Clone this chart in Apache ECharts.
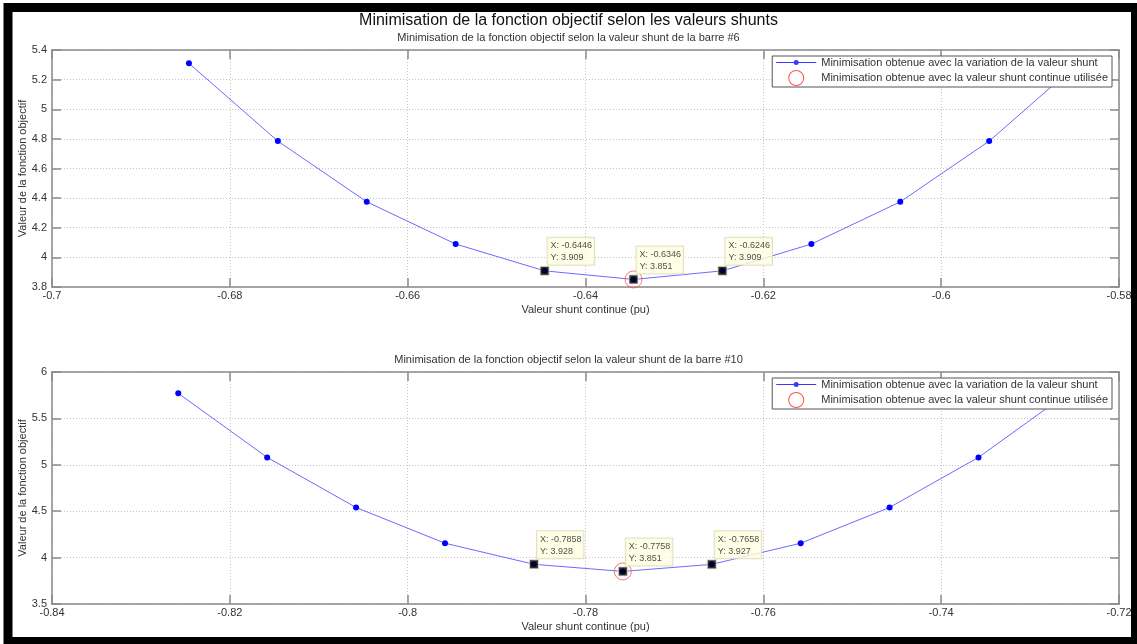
<!DOCTYPE html>
<html>
<head>
<meta charset="utf-8">
<script src="https://cdn.jsdelivr.net/npm/echarts@6/dist/echarts.min.js"></script>
<style>html,body{margin:0;padding:0;background:#fff}#c{width:1137px;height:644px}</style>
</head>
<body>
<div id="c"></div>
<script>
// ---- Data ----
const x1 = [-0.6846, -0.6746, -0.6646, -0.6546, -0.6446, -0.6346, -0.6246, -0.6146, -0.6046, -0.5946, -0.5846];
const y1 = [5.31, 4.785, 4.375, 4.09, 3.909, 3.851, 3.909, 4.09, 4.375, 4.785, 5.31];
const x2 = [-0.8258, -0.8158, -0.8058, -0.7958, -0.7858, -0.7758, -0.7658, -0.7558, -0.7458, -0.7358, -0.7258];
const y2 = [5.77, 5.08, 4.54, 4.155, 3.928, 3.851, 3.927, 4.155, 4.54, 5.08, 5.77];
const tipX1 = [-0.6446, -0.6346, -0.6246];
const tipY1 = [3.909, 3.851, 3.909];
const tipX2 = [-0.7858, -0.7758, -0.7658];
const tipY2 = [3.928, 3.851, 3.927];
const bestX1 = [-0.6346], bestY1 = [3.851];
const bestX2 = [-0.7758], bestY2 = [3.851];
const mainTitle = 'Minimisation de la fonction objectif selon les valeurs shunts';
const sub1 = 'Minimisation de la fonction objectif selon la valeur shunt de la barre #6';
const sub2 = 'Minimisation de la fonction objectif selon la valeur shunt de la barre #10';
const xName = 'Valeur shunt continue (pu)';
const yName = 'Valeur de la fonction objectif';
const nameLine = 'Minimisation obtenue avec la variation de la valeur shunt';
const nameBest = 'Minimisation obtenue avec la valeur shunt continue utilisée';

const FONT = '"Liberation Sans", Arial, sans-serif';
const TXT = '#333';
const AX = '#8a8a8a';
const RED = '#ff5050';
const zip = (a, b) => a.map((v, i) => [v, b[i]]);

const grids = [
  {left: 52, top: 50, width: 1067, height: 237},
  {left: 52, top: 372, width: 1067, height: 232}
];
const xr = [{min: -0.7, max: -0.58, interval: 0.02}, {min: -0.84, max: -0.72, interval: 0.02}];
const yr = [{min: 3.8, max: 5.4, interval: 0.2}, {min: 3.5, max: 6, interval: 0.5}];

const lineAx = {show: true, onZero: false, lineStyle: {color: AX, width: 1.5}};
const tickAx = {show: true, inside: true, length: 9, lineStyle: {color: AX, width: 1.5}};
const gridLine = {show: true, lineStyle: {color: '#c4c4c4', type: [1, 2], width: 1}};
const fmt = v => String(+v.toFixed(4));

const xAxes = [], yAxes = [];
for (let g = 0; g < 2; g++) {
  xAxes.push({
    type: 'value', gridIndex: g, position: 'bottom', ...xr[g],
    name: xName, nameLocation: 'middle', nameGap: 17, nameMoveOverlap: false,
    nameTextStyle: {fontFamily: FONT, fontSize: 11, color: TXT},
    axisLine: lineAx, axisTick: tickAx,
    axisLabel: {fontFamily: FONT, fontSize: 11, color: TXT, margin: 3, formatter: fmt},
    splitLine: gridLine
  });
  xAxes.push({
    type: 'value', gridIndex: g, position: 'top', ...xr[g],
    axisLine: lineAx, axisTick: tickAx,
    axisLabel: {show: false}, splitLine: {show: false}
  });
  yAxes.push({
    type: 'value', gridIndex: g, position: 'left', ...yr[g],
    name: yName, nameLocation: 'middle', nameGap: 24, nameMoveOverlap: false,
    nameTextStyle: {fontFamily: FONT, fontSize: 11, color: TXT},
    axisLine: lineAx, axisTick: tickAx,
    axisLabel: {fontFamily: FONT, fontSize: 11, color: TXT, margin: 5, formatter: fmt},
    splitLine: gridLine
  });
  yAxes.push({
    type: 'value', gridIndex: g, position: 'right', ...yr[g],
    axisLine: lineAx, axisTick: tickAx,
    axisLabel: {show: false}, splitLine: {show: false}
  });
}

function tipSeries(xs, ys, g) {
  return {
    type: 'scatter', xAxisIndex: 2 * g, yAxisIndex: 2 * g, z: 5,
    symbol: 'rect', symbolSize: 9, silent: true,
    itemStyle: {color: '#000', borderColor: '#e8e8c0', borderWidth: 1},
    data: zip(xs, ys),
    label: {
      show: true, position: [8, -1], align: 'left', verticalAlign: 'bottom',
      formatter: p => 'X: ' + p.value[0].toFixed(4) + '\nY: ' + p.value[1].toFixed(3),
      fontFamily: FONT, fontSize: 9, color: '#222', lineHeight: 12,
      backgroundColor: '#ffffe1', borderColor: '#d8d8b8', borderWidth: 1,
      padding: [2, 2, 1, 3]
    }
  };
}

const series = [];
[[x1, y1, bestX1, bestY1, tipX1, tipY1], [x2, y2, bestX2, bestY2, tipX2, tipY2]].forEach((d, g) => {
  series.push({
    name: nameLine, type: 'line', xAxisIndex: 2 * g, yAxisIndex: 2 * g,
    data: zip(d[0], d[1]), symbol: 'circle', symbolSize: 6, showSymbol: true,
    lineStyle: {color: '#6a6aff', width: 1}, itemStyle: {color: '#0000ff'},
    clip: true, animation: false
  });
  series.push({
    name: nameBest, type: 'scatter', xAxisIndex: 2 * g, yAxisIndex: 2 * g, z: 4,
    data: zip(d[2], d[3]), symbol: 'circle', symbolSize: 17,
    itemStyle: {color: 'rgba(0,0,0,0)', borderColor: RED, borderWidth: 1},
    animation: false
  });
  series.push(tipSeries(d[4], d[5], g));
});

const lineIcon = 'path://M0,2.5 L40,2.5 L40,3.5 L0,3.5 Z M20,0.5 A2.5,2.5 0 1,1 20,5.5 A2.5,2.5 0 1,1 20,0.5 Z';
const ringIcon = 'path://M20,0 A8,8 0 1,1 20,16 A8,8 0 1,1 20,0 Z M20,1 A7,7 0 1,0 20,15 A7,7 0 1,0 20,1 Z';
const legendBase = {
  orient: 'vertical', backgroundColor: '#fff', borderColor: '#555', borderWidth: 1,
  borderRadius: 0, padding: [1, 4, 1, 4], itemGap: 2, itemWidth: 40, itemHeight: 16,
  symbolKeepAspect: true,
  textStyle: {fontFamily: FONT, fontSize: 11, color: TXT},
  data: [
    {name: nameLine, icon: lineIcon, itemStyle: {color: '#3a3aff', borderWidth: 0, opacity: 1}},
    {name: nameBest, icon: ringIcon, itemStyle: {color: RED, borderWidth: 0, opacity: 1}}
  ],
  selectedMode: false
};

const option = {
  backgroundColor: '#fff',
  animation: false,
  title: [
    {text: mainTitle, left: 'center', top: 13, padding: 0, textStyle: {fontFamily: FONT, fontSize: 16, fontWeight: 'normal', color: '#111'}},
    {text: sub1, left: 'center', top: 32, padding: 0, textStyle: {fontFamily: FONT, fontSize: 11, fontWeight: 'normal', color: TXT}},
    {text: sub2, left: 'center', top: 354, padding: 0, textStyle: {fontFamily: FONT, fontSize: 11, fontWeight: 'normal', color: TXT}}
  ],
  grid: grids,
  xAxis: xAxes,
  yAxis: yAxes,
  legend: [
    Object.assign({}, legendBase, {right: 25, top: 56}),
    Object.assign({}, legendBase, {right: 25, top: 378})
  ],
  graphic: [{
    type: 'rect', z: 100, silent: true,
    shape: {x: 8, y: 7.5, width: 1127.5, height: 634},
    style: {fill: 'none', stroke: '#000', lineWidth: 9}
  }],
  series: series
};
echarts.init(document.getElementById('c'), null, {renderer: 'canvas'}).setOption(option);
</script>
</body>
</html>
